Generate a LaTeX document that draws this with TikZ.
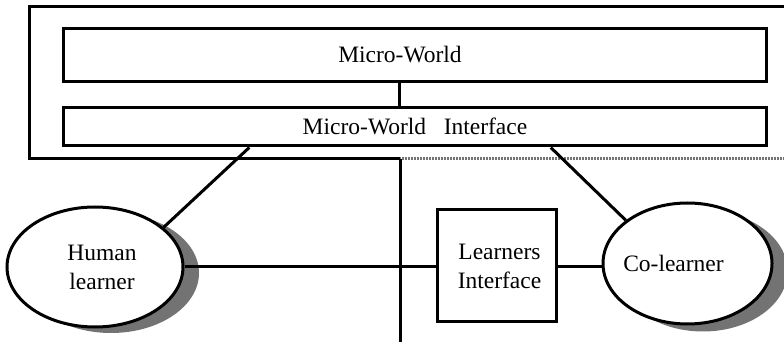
\documentclass[tikz,border=0pt]{standalone}
\usepackage{fontspec}
\setmainfont{Liberation Serif}
\usetikzlibrary{shapes.geometric,calc}
\begin{document}
\begin{tikzpicture}[x=1pt,y=-1pt,
  box/.style={draw,line width=3pt,rectangle,inner sep=0pt},
  actor/.style={draw,line width=3pt,ellipse,fill=white,inner sep=0pt},
  shadowfill/.style={ellipse,fill=black!55,inner sep=0pt},
  txt/.style={font=\fontsize{23.5}{29}\selectfont,align=center,inner sep=0pt},
  link/.style={line width=3pt},
  dotline/.style={line width=3pt,black!55,dash pattern=on 1pt off 0.5pt}]
\useasboundingbox (0,0) rectangle (784,344);

% outer frame corners
\coordinate (fTL) at (29,7);
\coordinate (fTR) at (786,7);
\coordinate (fBL) at (29,159);
\coordinate (fBM) at (400,159);
\coordinate (fBR) at (786,159);
\coordinate (axisEnd) at (400,342);

% micro-world boxes
\node[box,minimum width=703pt,minimum height=53pt] (mw) at (414.5,55.5) {};
\node[txt] (mwtext) at (400,55) {Micro-World};
\node[box,minimum width=703pt,minimum height=38pt] (mwi) at (414.5,127) {};
\node[txt] (mwitext) at (415,126) {Micro-World\ \ \ Interface};
\coordinate (mid) at (399.5,0);

% learners
\node[shadowfill,minimum width=176pt,minimum height=120pt] (hlsh) at (111,273) {};
\node[actor,minimum width=176pt,minimum height=120pt] (hl) at (95,267) {};
\node[txt] (hltext) at (102,267) {Human\\learner};

\node[shadowfill,minimum width=169pt,minimum height=121pt] (clsh) at (703,271) {};
\node[actor,minimum width=169pt,minimum height=121pt] (cl) at (687.5,263.5) {};
\node[txt] (cltext) at (673.5,263) {Co-learner};

\node[box,minimum width=119pt,minimum height=112pt] (li) at (496.5,266) {};
\node[txt] (litext) at (499.5,266) {Learners\\Interface};

% frame
\draw[link] (fTR) -- (fTL) -- (fBL) -- (fBM);
\draw[dotline] (fBM) -- (fBR);
\draw[link] (fBM) -- (axisEnd);

% connectors
\draw[link] (mw.south -| mid) -- (mwi.north -| mid);
\draw[link] ($(mwi.south west)!0.266!(mwi.south east)$) -- (hl.30);
\draw[link] ($(mwi.south west)!0.693!(mwi.south east)$) -- (cl.145);
\draw[link] (hl.east) -- (hl.east -| li.west);
\draw[link] (li.east |- hl.east) -- (hl.east -| cl.west);
\end{tikzpicture}
\end{document}
